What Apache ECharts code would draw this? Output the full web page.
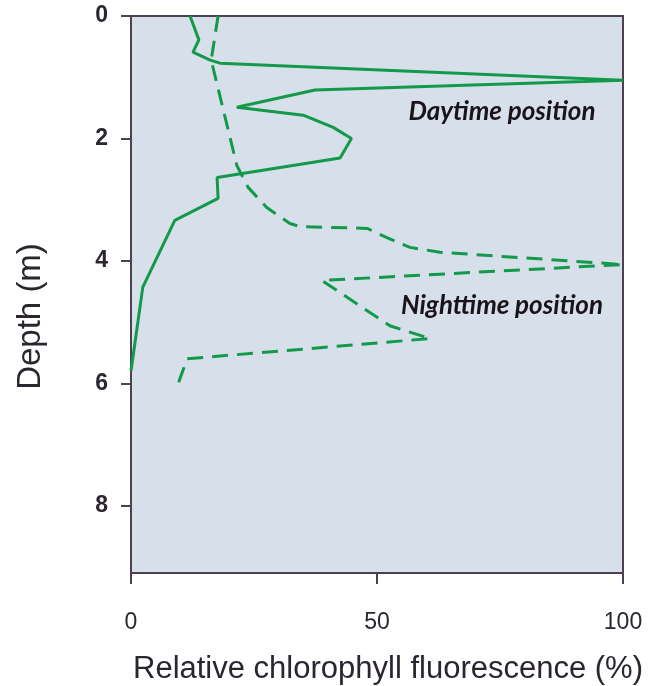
<!DOCTYPE html>
<html>
<head>
<meta charset="utf-8">
<script src="https://cdn.jsdelivr.net/npm/echarts@6/dist/echarts.min.js"></script>
<style>
html, body { margin: 0; padding: 0; background: #fff; }
#main { width: 659px; height: 686px; }
</style>
</head>
<body>
<div id="main"></div>
<script>
// daytime profile: fluorescence (%) and depth (m)
var dayFluor = [12.0, 13.8, 12.6, 16.1, 18.1, 100, 37.4, 21.5, 35.0, 41.1, 44.8, 42.5, 17.5, 17.7, 8.9, 2.4, 0];
var dayDepth = [0, 0.39, 0.59, 0.72, 0.77, 1.05, 1.21, 1.49, 1.62, 1.82, 2.0, 2.32, 2.64, 2.98, 3.34, 4.43, 5.8];

// nighttime profile
var nightFluor = [17.7, 16.3, 21.5, 23.8, 27.6, 32.3, 34.3, 48.0, 52.0, 56.7, 62.8, 100, 38.8, 52.6, 60.8, 11.4, 9.3];
var nightDepth = [0, 0.72, 2.44, 2.8, 3.13, 3.39, 3.44, 3.47, 3.62, 3.78, 3.86, 4.06, 4.32, 5.06, 5.27, 5.6, 6.07];

var xTicks = [0, 50, 100];
var yTicks = [0, 2, 4, 6, 8];

var labels = ['Daytime position', 'Nighttime position'];
var labelAt = [[75.4, 1.57], [75.4, 4.73]];

function pairs(xs, ys) {
	var out = [];
	for (var i = 0; i < xs.length; i++) out.push([xs[i], ys[i]]);
	return out;
}

var green = '#12994a';
var axisCol = '#4b4150';
var font = '"Liberation Sans", Arial, sans-serif';

function noteLabel(i) {
	return {
		symbol: 'circle',
		symbolSize: 1,
		silent: true,
		itemStyle: { color: 'rgba(0,0,0,0)' },
		label: {
			show: true,
			position: 'inside',
			formatter: labels[i],
			fontFamily: 'Lato, "Open Sans", sans-serif',
			fontStyle: 'italic',
			fontWeight: 'bold',
			fontSize: 26,
			color: '#1a141a'
		},
		data: [{ coord: labelAt[i] }]
	};
}

var myChart = echarts.init(document.getElementById('main'));
var option = {
	animation: false,
	grid: {
		left: 131,
		top: 16,
		right: 36,
		bottom: 113,
		outerBoundsMode: 'none',
		containLabel: false,
		show: true,
		backgroundColor: '#d7dfeb',
		borderColor: axisCol,
		borderWidth: 2
	},
	xAxis: {
		type: 'value',
		min: 0,
		max: 100,
		interval: 50,
		splitLine: { show: false },
		axisLine: { show: true, onZero: false, lineStyle: { color: axisCol, width: 2 } },
		axisTick: { show: true, length: 11, lineStyle: { color: axisCol, width: 2 }, customValues: xTicks },
		axisLabel: { margin: 38, fontSize: 23, color: '#2b2530', fontFamily: font, customValues: xTicks },
		name: 'Relative chlorophyll fluorescence (%)',
		nameLocation: 'middle',
		nameGap: 81,
		nameTextStyle: { fontSize: 31, color: '#2b2530', fontFamily: font, padding: [0, 0, 0, 22] }
	},
	yAxis: {
		type: 'value',
		inverse: true,
		min: 0,
		max: 9.1,
		interval: 2,
		splitLine: { show: false },
		axisLine: { show: true, onZero: false, lineStyle: { color: axisCol, width: 2 } },
		axisTick: { show: true, length: 10, lineStyle: { color: axisCol, width: 2 }, customValues: yTicks },
		axisLabel: { margin: 23, fontSize: 23, fontWeight: 'bold', color: '#2b2530', fontFamily: font, customValues: yTicks },
		name: 'Depth (m)',
		nameLocation: 'middle',
		nameGap: 84,
		nameTextStyle: { fontSize: 33, color: '#2b2530', fontFamily: font, padding: [0, 44, 0, 0] }
	},
	series: [{
		name: 'Daytime',
		type: 'line',
		data: pairs(dayFluor, dayDepth),
		showSymbol: false,
		lineStyle: { color: green, width: 3 },
		markPoint: noteLabel(0)
	}, {
		name: 'Nighttime',
		type: 'line',
		data: pairs(nightFluor, nightDepth),
		showSymbol: false,
		lineStyle: { color: green, width: 3, type: [16, 9] },
		markPoint: noteLabel(1)
	}]
};
myChart.setOption(option);
</script>
</body>
</html>
